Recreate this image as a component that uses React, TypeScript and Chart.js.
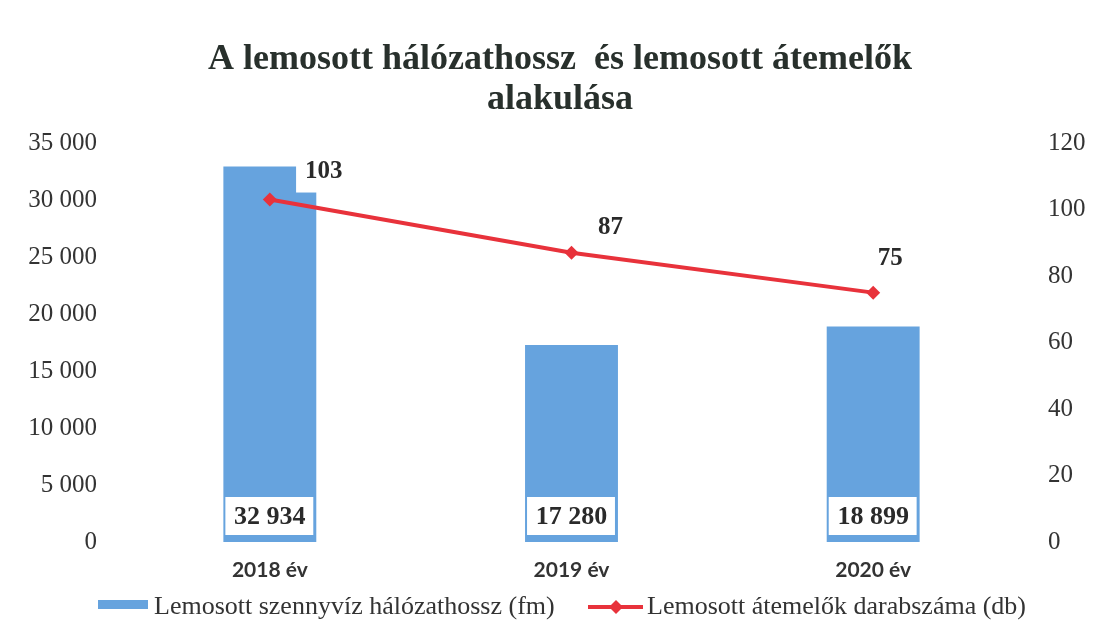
import { useEffect, useRef } from 'react';
import { Chart, registerables } from 'chart.js';

Chart.register(...registerables);

const categories = ['2018 év', '2019 év', '2020 év'];
const networkLength = [32934, 17280, 18899];
const stationCount = [103, 87, 75];
const titleLines = ['A lemosott hálózathossz  és lemosott átemelők', 'alakulása'];
const seriesNames = ['Lemosott szennyvíz hálózathossz (fm)', 'Lemosott átemelők darabszáma (db)'];
const leftAxisMax = 35000;
const leftAxisStep = 5000;
const rightAxisMax = 120;
const rightAxisStep = 20;

const BAR_COLOR = '#66a3de';
const LINE_COLOR = '#e8323b';
const TEXT_COLOR = '#2a2a2a';
const SERIF = '"Liberation Serif", "Times New Roman", serif';

const fmt = (v: number) => String(v).replace(/\B(?=(\d{3})+(?!\d))/g, ' ');

// per-label placement offsets (style, relative to the point)
const lineLabelOffsets = [
  [54, -28],
  [39, -25],
  [17, -34],
];

const labelPlugin = {
  id: 'customLabels',
  afterDatasetsDraw(chart: any) {
    const ctx = chart.ctx;
    // bar labels
    const barMeta = chart.getDatasetMeta(1);
    ctx.save();
    ctx.font = `bold 26px ${SERIF}`;
    ctx.textAlign = 'center';
    ctx.textBaseline = 'middle';
    barMeta.data.forEach((el: any, i: number) => {
      const { x, base, width } = el.getProps(['x', 'base', 'width'], true);
      const left = x - width / 2 + 2;
      const right = x + width / 2 - 3;
      const top = base - 45;
      const bottom = base - 7;
      ctx.fillStyle = '#ffffff';
      ctx.fillRect(left, top, right - left, bottom - top);
      ctx.fillStyle = TEXT_COLOR;
      ctx.fillText(fmt(networkLength[i]), x, (top + bottom) / 2 + 1);
    });
    // line labels
    const lineMeta = chart.getDatasetMeta(0);
    ctx.font = `bold 25px ${SERIF}`;
    lineMeta.data.forEach((el: any, i: number) => {
      const { x, y } = el.getProps(['x', 'y'], true);
      const [dx, dy] = lineLabelOffsets[i];
      const cx = x + dx;
      const cy = y + dy;
      const txt = String(stationCount[i]);
      const w = ctx.measureText(txt).width;
      ctx.fillStyle = '#ffffff';
      ctx.fillRect(cx - w / 2 - 9, cy - 21, w + 18, 42);
      ctx.fillStyle = TEXT_COLOR;
      ctx.fillText(txt, cx, cy);
    });
    ctx.restore();
  },
  afterDraw(chart: any) {
    const ctx = chart.ctx;
    ctx.save();
    // title
    ctx.fillStyle = '#28302c';
    ctx.font = `bold 36px ${SERIF}`;
    ctx.textAlign = 'center';
    ctx.textBaseline = 'alphabetic';
    ctx.fillText(titleLines[0], 560, 69);
    ctx.fillText(titleLines[1], 560, 109);
    // legend
    ctx.fillStyle = BAR_COLOR;
    ctx.fillRect(98, 600, 50, 9);
    ctx.strokeStyle = LINE_COLOR;
    ctx.lineWidth = 4;
    ctx.beginPath();
    ctx.moveTo(588, 607);
    ctx.lineTo(643, 607);
    ctx.stroke();
    ctx.fillStyle = LINE_COLOR;
    ctx.beginPath();
    ctx.moveTo(616, 600);
    ctx.lineTo(623, 607);
    ctx.lineTo(616, 614);
    ctx.lineTo(609, 607);
    ctx.closePath();
    ctx.fill();
    ctx.fillStyle = '#333333';
    ctx.font = `26px ${SERIF}`;
    ctx.textAlign = 'left';
    ctx.fillText(seriesNames[0], 154, 614);
    ctx.fillText(seriesNames[1], 647, 614);
    ctx.restore();
  },
};

export default function App() {
  const ref = useRef<HTMLCanvasElement>(null);

  useEffect(() => {
    document.body.style.margin = '0';
    const canvas = ref.current;
    if (!canvas) return;
    const chart = new Chart(canvas, {
      type: 'bar',
      data: {
        labels: categories,
        datasets: [
          {
            type: 'line',
            label: seriesNames[1],
            data: stationCount,
            yAxisID: 'y1',
            borderColor: LINE_COLOR,
            backgroundColor: LINE_COLOR,
            borderWidth: 4,
            pointStyle: 'rectRot',
            pointRadius: 7,
            pointBorderWidth: 0,
            pointBackgroundColor: LINE_COLOR,
            order: 0,
          } as any,
          {
            type: 'bar',
            label: seriesNames[0],
            data: networkLength,
            yAxisID: 'y',
            backgroundColor: BAR_COLOR,
            barPercentage: 0.308,
            categoryPercentage: 1,
            order: 1,
          },
        ],
      },
      options: {
        responsive: false,
        animation: false,
        devicePixelRatio: 1,
        layout: { padding: { top: 143, bottom: 0, left: 0, right: 0 } },
        plugins: {
          legend: { display: false },
          title: { display: false },
          tooltip: { enabled: false },
        },
        scales: {
          x: {
            grid: { display: false, drawTicks: false },
            border: { display: false },
            ticks: {
              color: '#333333',
              font: { family: 'Lato, "Open Sans", sans-serif', weight: 'bold', size: 21 },
              padding: 16,
            },
            afterFit: (s: any) => {
              s.height = 100;
            },
          },
          y: {
            position: 'left',
            min: 0,
            max: leftAxisMax,
            grid: { display: false, drawTicks: false },
            border: { display: false },
            ticks: {
              stepSize: leftAxisStep,
              color: '#333333',
              font: { family: SERIF, size: 25 },
              padding: 22,
              callback: (v: any) => fmt(Number(v)),
            },
            afterFit: (s: any) => {
              s.width = 119;
            },
          },
          y1: {
            position: 'right',
            min: 0,
            max: rightAxisMax,
            grid: { display: false, drawTicks: false },
            border: { display: false },
            ticks: {
              stepSize: rightAxisStep,
              color: '#333333',
              font: { family: SERIF, size: 25 },
              padding: 24,
            },
            afterFit: (s: any) => {
              s.width = 71;
            },
          },
        },
      },
      plugins: [labelPlugin],
    });
    return () => chart.destroy();
  }, []);

  return (
    <div style={{ position: 'absolute', left: 0, top: 0, width: 1095, height: 642, background: '#fff' }}>
      <canvas ref={ref} width={1095} height={642} style={{ width: 1095, height: 642, display: 'block' }} />
    </div>
  );
}
